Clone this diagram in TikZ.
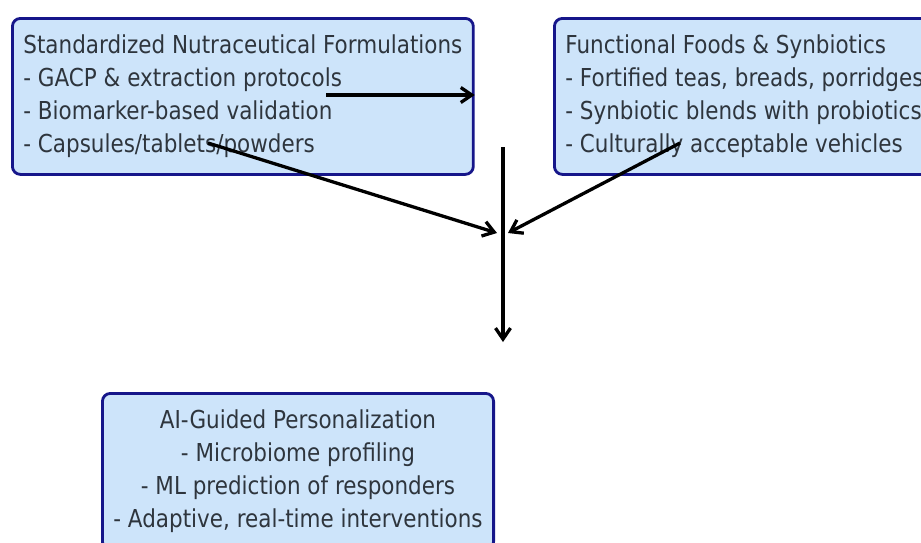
\documentclass[tikz,border=0pt]{standalone}
\usepackage{fontspec}
\setmainfont{DejaVu Sans}[FakeStretch=0.87]
\usetikzlibrary{arrows.meta}
\definecolor{boxfill}{HTML}{CDE4FA}
\definecolor{boxline}{HTML}{16168A}
\definecolor{ink}{HTML}{2E353D}
\begin{document}
\begin{tikzpicture}[x=1pt,y=-1pt,
  card/.style={draw=boxline, line width=2.8pt, fill=boxfill, rounded corners=8pt,
    text=ink, inner xsep=11pt, inner ysep=0pt, minimum height=156pt,
    font=\fontsize{24.7}{33}\selectfont},
  flow/.style={line width=3.3pt, -{Straight Barb[length=11pt,width=15pt]}}]
\useasboundingbox (0,0) rectangle (921,542);

% the three boxes
\node[card, anchor=north west, align=left] (f) at (11,17)
  {Standardized Nutraceutical Formulations\\
   - GACP \& extraction protocols\\
   - Biomarker-based validation\\
   - Capsules/tablets/powders};
\node[card, anchor=north west, align=left] (s) at (553,17)
  {Functional Foods \& Synbiotics\\
   - Fortified teas, breads, porridges\\
   - Synbiotic blends with probiotics\\
   - Culturally acceptable vehicles};
\node[card, anchor=north, align=center] (p) at (298,392)
  {AI-Guided Personalization\\
   - Microbiome profiling\\
   - ML prediction of responders\\
   - Adaptive, real-time interventions};

% connector end points
\coordinate (fmid) at (326,95);
\coordinate (fout) at (208,143);
\coordinate (sout) at (680,143);
\coordinate (hubL) at (497,233);
\coordinate (hubR) at (508,233);
\coordinate (stemtop) at (503,147);
\coordinate (stembot) at (503,342);

% connectors
\draw[flow] (fmid) -- (fmid -| f.east);
\draw[flow] (fout) -- (hubL);
\draw[flow] (sout) -- (hubR);
\draw[flow] (stemtop) -- (stembot);
\end{tikzpicture}
\end{document}
